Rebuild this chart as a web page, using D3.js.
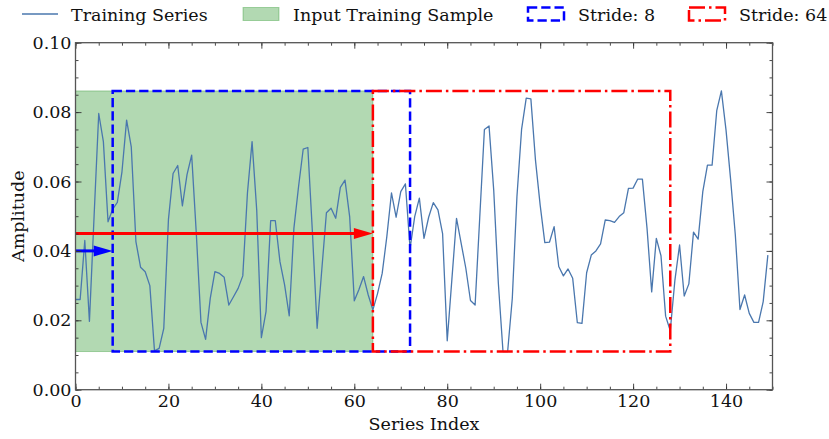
<!DOCTYPE html>
<html>
<head>
<meta charset="utf-8">
<script src="https://cdn.jsdelivr.net/npm/d3@7"></script>
<style>
  body { margin: 0; background: #fff; }
  text { font-family: "DejaVu Serif", serif; fill: #111; }
</style>
</head>
<body>
<script>
// training series, one value per index
var amplitude = [
  0.026, 0.026, 0.043, 0.0197, 0.050, 0.0796, 0.0715, 0.0484, 0.052, 0.054,
  0.0628, 0.0777, 0.070, 0.0427, 0.0353, 0.034, 0.030, 0.0112, 0.0119, 0.0177,
  0.049, 0.0623, 0.0646, 0.053, 0.062, 0.0676, 0.045, 0.0194, 0.0145, 0.0263,
  0.034, 0.0335, 0.0324, 0.0244, 0.0268, 0.0292, 0.0328, 0.0566, 0.0715, 0.0518,
  0.015, 0.0225, 0.0487, 0.0487, 0.0369, 0.0302, 0.0213, 0.0465, 0.0585, 0.0693,
  0.0698, 0.045, 0.0177, 0.0345, 0.051, 0.0523, 0.0494, 0.0583, 0.0604, 0.0499,
  0.0256, 0.0289, 0.0326, 0.0273, 0.023, 0.0277, 0.0335, 0.0441, 0.0567, 0.0497,
  0.0571, 0.0593, 0.0407, 0.0499, 0.0552, 0.0436, 0.0497, 0.0539, 0.0518, 0.045,
  0.0141, 0.0318, 0.0494, 0.0422, 0.035, 0.0257, 0.0244, 0.0497, 0.075, 0.076,
  0.0576, 0.0307, 0.011, 0.011, 0.0263, 0.0556, 0.075, 0.084, 0.0838, 0.066,
  0.0532, 0.0424, 0.0425, 0.047, 0.0355, 0.0328, 0.0348, 0.0321, 0.0193, 0.0191,
  0.0337, 0.0388, 0.040, 0.042, 0.0489, 0.0487, 0.0482, 0.0499, 0.051, 0.058,
  0.0581, 0.0607, 0.0607, 0.0465, 0.0282, 0.0436, 0.0386, 0.0212, 0.017, 0.0316,
  0.0417, 0.027, 0.0305, 0.0454, 0.0434, 0.0571, 0.0647, 0.0647, 0.0804, 0.0861,
  0.0748, 0.0604, 0.0446, 0.0231, 0.0273, 0.022, 0.0194, 0.0194, 0.0254, 0.0388
];

var xTickVals = [0, 20, 40, 60, 80, 100, 120, 140];
var yTickVals = [0, 0.02, 0.04, 0.06, 0.08, 0.10];
var windowLen = 64;
var strides = [8, 64];
var arrowLevels = [0.040, 0.045];   // blue arrow (stride 8), red arrow (stride 64)
var legendLabels = ["Training Series", "Input Training Sample", "Stride: 8", "Stride: 64"];

var W = 829, H = 439;
var margin = {top: 42.7, right: 56.5, bottom: 49.3, left: 75.5},
    width = W - margin.left - margin.right,
    height = H - margin.top - margin.bottom;

var lineColor = "#4a77ae";
var fs = 17.5;

var svg = d3.select("body").append("svg")
    .attr("width", W)
    .attr("height", H);

var g = svg.append("g")
    .attr("transform", "translate(" + margin.left + "," + margin.top + ")");

var x = d3.scaleLinear().domain([0, 150]).range([0, width]);
var y = d3.scaleLinear().domain([0, 0.10]).range([height, 0]);

var lo = d3.min(amplitude), hi = d3.max(amplitude);

// input training sample (green box)
g.append("rect")
    .attr("x", x(0))
    .attr("y", y(hi))
    .attr("width", x(windowLen) - x(0))
    .attr("height", y(lo) - y(hi))
    .attr("fill", "green")
    .attr("fill-opacity", 0.3)
    .attr("stroke", "green")
    .attr("stroke-opacity", 0.3)
    .attr("stroke-width", 1);

// the series itself
var line = d3.line()
    .x(function(d, i) { return x(i); })
    .y(function(d) { return y(d); });

g.append("path")
    .datum(amplitude)
    .attr("d", line)
    .attr("fill", "none")
    .attr("stroke", lineColor)
    .attr("stroke-width", 1.3)
    .attr("stroke-linejoin", "round");

// stride windows
var windowStyles = [
  {color: "#0000ff", dash: "9.25,4"},
  {color: "#ff0000", dash: "16,4,2.5,4"}
];
strides.forEach(function(s, k) {
  g.append("rect")
      .attr("x", x(s))
      .attr("y", y(hi))
      .attr("width", x(s + windowLen) - x(s))
      .attr("height", y(lo) - y(hi))
      .attr("fill", "none")
      .attr("stroke", windowStyles[k].color)
      .attr("stroke-width", 2.5)
      .attr("stroke-dasharray", windowStyles[k].dash);
});

// arrows showing how far each stride moves the window
function arrow(x1, level, color) {
  var yy = y(level), xe = x(x1), headLen = 19, headW = 5.5;
  g.append("line")
      .attr("x1", x(0))
      .attr("x2", xe - headLen + 2)
      .attr("y1", yy)
      .attr("y2", yy)
      .attr("stroke", color)
      .attr("stroke-width", 3);
  g.append("path")
      .attr("d", "M" + xe + "," + yy + "L" + (xe - headLen) + "," + (yy - headW) +
                 "L" + (xe - headLen) + "," + (yy + headW) + "Z")
      .attr("fill", color);
}
arrow(strides[0], arrowLevels[0], "#0000ff");
arrow(strides[1], arrowLevels[1], "#ff0000");

// axes, ticks point inward on all four sides
var fmtY = d3.format(".2f");
var xMinor = d3.range(0, 151, 5), yMinor = d3.range(0, 0.1001, 0.005);

function styleAxis(sel) {
  sel.select(".domain").remove();
  sel.selectAll(".tick line").attr("stroke", "#333").attr("stroke-width", 0.9);
  sel.selectAll("text").attr("font-size", fs).attr("fill", "#111")
     .style("font-family", "DejaVu Serif, serif");
}

g.append("g").attr("transform", "translate(0," + height + ")")
    .call(d3.axisBottom(x).tickValues(xMinor).tickSize(-3).tickFormat(""))
    .call(styleAxis);
g.append("g").attr("transform", "translate(0," + height + ")")
    .call(d3.axisBottom(x).tickValues(xTickVals).tickSizeInner(-6).tickSizeOuter(0).tickPadding(5))
    .call(styleAxis);
g.append("g")
    .call(d3.axisTop(x).tickValues(xMinor).tickSize(-3).tickFormat(""))
    .call(styleAxis);
g.append("g")
    .call(d3.axisTop(x).tickValues(xTickVals).tickSize(-6).tickFormat(""))
    .call(styleAxis);

g.append("g")
    .call(d3.axisLeft(y).tickValues(yMinor).tickSize(-3).tickFormat(""))
    .call(styleAxis);
g.append("g")
    .call(d3.axisLeft(y).tickValues(yTickVals).tickSizeInner(-6).tickSizeOuter(0).tickPadding(4).tickFormat(fmtY))
    .call(styleAxis);
g.append("g").attr("transform", "translate(" + width + ",0)")
    .call(d3.axisRight(y).tickValues(yMinor).tickSize(-3).tickFormat(""))
    .call(styleAxis);
g.append("g").attr("transform", "translate(" + width + ",0)")
    .call(d3.axisRight(y).tickValues(yTickVals).tickSize(-6).tickFormat(""))
    .call(styleAxis);

// frame
g.append("rect")
    .attr("width", width)
    .attr("height", height)
    .attr("fill", "none")
    .attr("stroke", "#555")
    .attr("stroke-width", 1.3);

// axis titles
g.append("text")
    .attr("x", width / 2)
    .attr("y", height + 40)
    .attr("text-anchor", "middle")
    .attr("font-size", fs)
    .text("Series Index");
g.append("text")
    .attr("transform", "translate(" + (18 - margin.left) + "," + (height / 2) + ") rotate(-90)")
    .attr("text-anchor", "middle")
    .attr("dy", "0.35em")
    .attr("font-size", fs)
    .text("Amplitude");

// legend across the top
var leg = svg.append("g");
var hx = [22, 243, 528, 689], tx = [71, 293, 578, 739];
leg.append("line")
    .attr("x1", hx[0]).attr("x2", hx[0] + 36)
    .attr("y1", 14).attr("y2", 14)
    .attr("stroke", lineColor).attr("stroke-width", 1.3);
leg.append("rect")
    .attr("x", hx[1]).attr("y", 7.5).attr("width", 36).attr("height", 13)
    .attr("fill", "green").attr("fill-opacity", 0.3)
    .attr("stroke", "green").attr("stroke-opacity", 0.3);
leg.append("rect")
    .attr("x", hx[2]).attr("y", 7.5).attr("width", 36).attr("height", 13)
    .attr("fill", "none").attr("stroke", windowStyles[0].color)
    .attr("stroke-width", 2.5).attr("stroke-dasharray", windowStyles[0].dash);
leg.append("rect")
    .attr("x", hx[3]).attr("y", 7.5).attr("width", 36).attr("height", 13)
    .attr("fill", "none").attr("stroke", windowStyles[1].color)
    .attr("stroke-width", 2.5).attr("stroke-dasharray", windowStyles[1].dash);
leg.selectAll("text.lab")
    .data(legendLabels)
    .enter().append("text")
    .attr("class", "lab")
    .attr("x", function(d, i) { return tx[i]; })
    .attr("y", 20.5)
    .attr("font-size", fs)
    .text(function(d) { return d; });
</script>
</body>
</html>
